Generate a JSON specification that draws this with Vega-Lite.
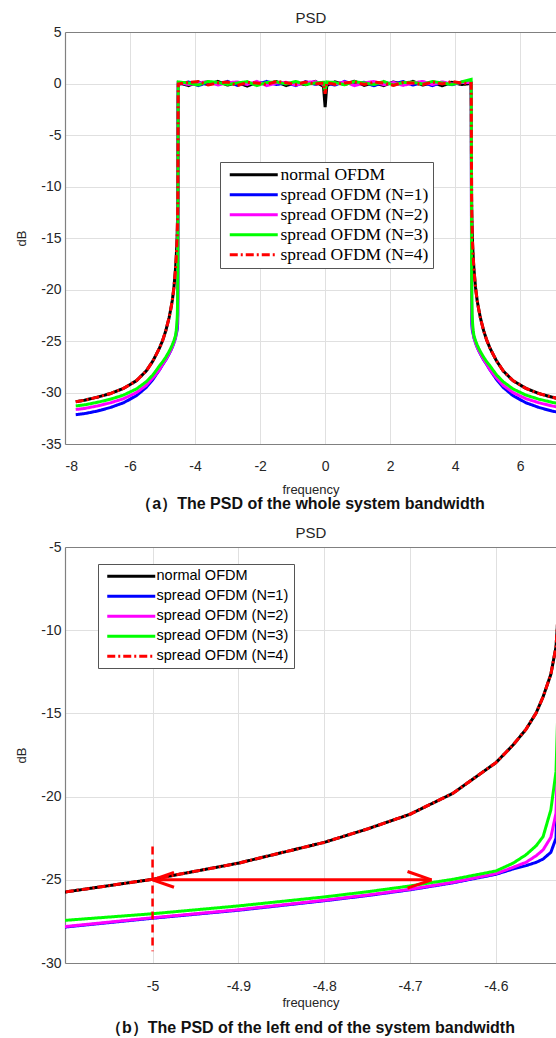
{
  "$schema": "https://vega.github.io/schema/vega-lite/v6.json",
  "background": "white",
  "padding": {"left": 15, "top": 10, "right": 0, "bottom": 0},
  "spacing": 13,
  "config": {
    "view": {"stroke": null},
    "axis": {
      "labelFont": "Liberation Sans", "titleFont": "Liberation Sans",
      "labelColor": "#262626", "titleColor": "#262626",
      "labelFontSize": 14, "titleFontSize": 13, "titleFontWeight": "normal",
      "gridColor": "#e0e0e0", "gridWidth": 1,
      "domainColor": "#808080", "domainWidth": 1.2,
      "ticks": false
    },
    "title": {"font": "Liberation Sans", "fontSize": 16, "fontWeight": "bold", "color": "#111111"}
  },
  "datasets": {
    "psd": [
      {"f": -7.67, "s0": -30.9, "s1": -32.15, "s2": -31.65, "s3": -31.3, "s4": -30.9},
      {"f": -7.4, "s0": -30.75, "s1": -32.05, "s2": -31.55, "s3": -31.2, "s4": -30.75},
      {"f": -7.0, "s0": -30.45, "s1": -31.8, "s2": -31.3, "s3": -30.95, "s4": -30.45},
      {"f": -6.6, "s0": -30.1, "s1": -31.45, "s2": -31.0, "s3": -30.65, "s4": -30.1},
      {"f": -6.2, "s0": -29.6, "s1": -31.0, "s2": -30.6, "s3": -30.25, "s4": -29.6},
      {"f": -5.8, "s0": -28.85, "s1": -30.3, "s2": -30.0, "s3": -29.65, "s4": -28.85},
      {"f": -5.5, "s0": -27.9, "s1": -29.5, "s2": -29.3, "s3": -28.95, "s4": -27.9},
      {"f": -5.3, "s0": -26.95, "s1": -28.75, "s2": -28.6, "s3": -28.3, "s4": -26.95},
      {"f": -5.2, "s0": -26.35, "s1": -28.28, "s2": -28.22, "s3": -27.88, "s4": -26.35},
      {"f": -5.1, "s0": -25.72, "s1": -27.83, "s2": -27.8, "s3": -27.43, "s4": -25.72},
      {"f": -5.0, "s0": -24.97, "s1": -27.31, "s2": -27.28, "s3": -27.04, "s4": -24.97},
      {"f": -4.9, "s0": -24.0, "s1": -26.83, "s2": -26.8, "s3": -26.57, "s4": -24.0},
      {"f": -4.8, "s0": -22.75, "s1": -26.26, "s2": -26.23, "s3": -26.03, "s4": -22.75},
      {"f": -4.75, "s0": -21.95, "s1": -25.95, "s2": -25.92, "s3": -25.72, "s4": -21.95},
      {"f": -4.7, "s0": -21.06, "s1": -25.6, "s2": -25.57, "s3": -25.37, "s4": -21.06},
      {"f": -4.65, "s0": -19.8, "s1": -25.18, "s2": -25.15, "s3": -24.97, "s4": -19.8},
      {"f": -4.6, "s0": -17.96, "s1": -24.67, "s2": -24.63, "s3": -24.47, "s4": -17.96},
      {"f": -4.58, "s0": -16.9, "s1": -24.35, "s2": -24.25, "s3": -24.0, "s4": -16.9},
      {"f": -4.565, "s0": -15.96, "s1": -24.15, "s2": -23.95, "s3": -23.5, "s4": -15.96},
      {"f": -4.553, "s0": -14.96, "s1": -23.95, "s2": -23.55, "s3": -22.95, "s4": -14.96},
      {"f": -4.545, "s0": -14.0, "s1": -23.75, "s2": -23.2, "s3": -22.4, "s4": -14.0},
      {"f": -4.536, "s0": -12.65, "s1": -23.35, "s2": -22.45, "s3": -20.8, "s4": -12.65},
      {"f": -4.53, "s0": -11.0, "s1": -22.5, "s2": -21.0, "s3": -18.5, "s4": -11.0},
      {"f": -4.525, "s0": -7.0, "s1": -14.0, "s2": -12.0, "s3": -10.0, "s4": -7.0},
      {"f": -4.52, "s0": -2.0, "s1": -1.5, "s2": -1.5, "s3": -1.5, "s4": -2.0},
      {"f": -4.515, "s0": 0.05, "s1": -0.1, "s2": 0.1, "s3": 0.15, "s4": -0.05},
      {"f": -4.2, "s0": -0.2, "s1": 0.15, "s2": -0.1, "s3": 0.05, "s4": 0.1},
      {"f": -3.9, "s0": 0.15, "s1": -0.2, "s2": 0.05, "s3": -0.15, "s4": 0.2},
      {"f": -3.6, "s0": -0.1, "s1": 0.1, "s2": 0.2, "s3": 0.2, "s4": -0.15},
      {"f": -3.3, "s0": 0.2, "s1": -0.05, "s2": -0.15, "s3": 0.1, "s4": 0.05},
      {"f": -3.0, "s0": -0.15, "s1": 0.2, "s2": 0.08, "s3": -0.1, "s4": 0.15},
      {"f": -2.7, "s0": 0.1, "s1": -0.18, "s2": 0.15, "s3": 0.05, "s4": -0.2},
      {"f": -2.4, "s0": -0.25, "s1": 0.08, "s2": -0.1, "s3": 0.18, "s4": 0.1},
      {"f": -2.1, "s0": 0.12, "s1": -0.12, "s2": 0.2, "s3": -0.2, "s4": 0.05},
      {"f": -1.8, "s0": -0.05, "s1": 0.2, "s2": -0.2, "s3": 0.1, "s4": -0.1},
      {"f": -1.5, "s0": 0.18, "s1": -0.1, "s2": 0.05, "s3": 0.15, "s4": 0.2},
      {"f": -1.2, "s0": -0.2, "s1": 0.05, "s2": 0.12, "s3": -0.05, "s4": 0.08},
      {"f": -0.9, "s0": 0.08, "s1": -0.2, "s2": -0.15, "s3": 0.2, "s4": -0.1},
      {"f": -0.6, "s0": -0.12, "s1": 0.18, "s2": 0.1, "s3": -0.1, "s4": 0.15},
      {"f": -0.3, "s0": 0.2, "s1": -0.08, "s2": 0.18, "s3": 0.05, "s4": -0.05},
      {"f": -0.05, "s0": -0.3, "s1": 0.1, "s2": -0.1, "s3": 0.12, "s4": 0.05},
      {"f": 0.0, "s0": -2.3, "s1": -0.4, "s2": -0.5, "s3": -0.7, "s4": -1.0},
      {"f": 0.05, "s0": -0.2, "s1": 0.05, "s2": 0.1, "s3": 0.15, "s4": 0.1},
      {"f": 0.3, "s0": 0.15, "s1": -0.15, "s2": -0.05, "s3": 0.1, "s4": -0.1},
      {"f": 0.6, "s0": -0.1, "s1": 0.2, "s2": 0.15, "s3": -0.12, "s4": 0.05},
      {"f": 0.9, "s0": 0.22, "s1": -0.1, "s2": -0.2, "s3": 0.18, "s4": 0.15},
      {"f": 1.2, "s0": -0.18, "s1": 0.12, "s2": 0.05, "s3": 0.05, "s4": -0.1},
      {"f": 1.5, "s0": 0.05, "s1": -0.22, "s2": 0.2, "s3": -0.1, "s4": 0.12},
      {"f": 1.8, "s0": -0.2, "s1": 0.1, "s2": -0.12, "s3": 0.2, "s4": 0.05},
      {"f": 2.1, "s0": 0.15, "s1": -0.05, "s2": 0.1, "s3": -0.15, "s4": -0.18},
      {"f": 2.4, "s0": -0.08, "s1": 0.18, "s2": -0.18, "s3": 0.1, "s4": 0.1},
      {"f": 2.7, "s0": 0.2, "s1": -0.15, "s2": 0.05, "s3": 0.12, "s4": 0.05},
      {"f": 3.0, "s0": -0.15, "s1": 0.08, "s2": 0.2, "s3": -0.05, "s4": -0.12},
      {"f": 3.3, "s0": 0.1, "s1": -0.2, "s2": -0.1, "s3": 0.2, "s4": 0.15},
      {"f": 3.6, "s0": -0.22, "s1": 0.1, "s2": 0.15, "s3": 0.05, "s4": -0.05},
      {"f": 3.9, "s0": 0.12, "s1": -0.12, "s2": -0.05, "s3": -0.1, "s4": 0.2},
      {"f": 4.2, "s0": -0.1, "s1": 0.15, "s2": 0.1, "s3": 0.15, "s4": 0.05},
      {"f": 4.49, "s0": 0.0, "s1": 0.05, "s2": 0.1, "s3": 0.4, "s4": 0.0},
      {"f": 4.495, "s0": -2.0, "s1": -1.5, "s2": -1.5, "s3": -1.5, "s4": -2.0},
      {"f": 4.5, "s0": -7.0, "s1": -14.0, "s2": -12.0, "s3": -10.0, "s4": -7.0},
      {"f": 4.505, "s0": -11.0, "s1": -22.5, "s2": -21.0, "s3": -18.5, "s4": -11.0},
      {"f": 4.511, "s0": -12.65, "s1": -23.35, "s2": -22.45, "s3": -20.8, "s4": -12.65},
      {"f": 4.52, "s0": -14.0, "s1": -23.75, "s2": -23.2, "s3": -22.4, "s4": -14.0},
      {"f": 4.528, "s0": -14.96, "s1": -23.95, "s2": -23.55, "s3": -22.95, "s4": -14.96},
      {"f": 4.54, "s0": -15.96, "s1": -24.15, "s2": -23.95, "s3": -23.5, "s4": -15.96},
      {"f": 4.555, "s0": -16.9, "s1": -24.35, "s2": -24.25, "s3": -24.0, "s4": -16.9},
      {"f": 4.575, "s0": -17.96, "s1": -24.67, "s2": -24.63, "s3": -24.47, "s4": -17.96},
      {"f": 4.625, "s0": -19.8, "s1": -25.18, "s2": -25.15, "s3": -24.97, "s4": -19.8},
      {"f": 4.675, "s0": -21.06, "s1": -25.6, "s2": -25.57, "s3": -25.37, "s4": -21.06},
      {"f": 4.725, "s0": -21.95, "s1": -25.95, "s2": -25.92, "s3": -25.72, "s4": -21.95},
      {"f": 4.775, "s0": -22.75, "s1": -26.26, "s2": -26.23, "s3": -26.03, "s4": -22.75},
      {"f": 4.875, "s0": -24.0, "s1": -26.83, "s2": -26.8, "s3": -26.57, "s4": -24.0},
      {"f": 4.975, "s0": -24.97, "s1": -27.31, "s2": -27.28, "s3": -27.04, "s4": -24.97},
      {"f": 5.075, "s0": -25.72, "s1": -27.83, "s2": -27.8, "s3": -27.43, "s4": -25.72},
      {"f": 5.175, "s0": -26.35, "s1": -28.28, "s2": -28.22, "s3": -27.88, "s4": -26.35},
      {"f": 5.275, "s0": -26.95, "s1": -28.75, "s2": -28.6, "s3": -28.3, "s4": -26.95},
      {"f": 5.475, "s0": -27.9, "s1": -29.5, "s2": -29.3, "s3": -28.95, "s4": -27.9},
      {"f": 5.775, "s0": -28.85, "s1": -30.3, "s2": -30.0, "s3": -29.65, "s4": -28.85},
      {"f": 6.175, "s0": -29.6, "s1": -31.0, "s2": -30.6, "s3": -30.25, "s4": -29.6},
      {"f": 6.575, "s0": -30.1, "s1": -31.45, "s2": -31.0, "s3": -30.65, "s4": -30.1},
      {"f": 6.975, "s0": -30.45, "s1": -31.8, "s2": -31.3, "s3": -30.95, "s4": -30.45},
      {"f": 7.375, "s0": -30.75, "s1": -32.05, "s2": -31.55, "s3": -31.2, "s4": -30.75},
      {"f": 7.645, "s0": -30.9, "s1": -32.15, "s2": -31.65, "s3": -31.3, "s4": -30.9}
    ],
    "arrow": [
      {"f": -5.0, "dB": -25.0, "f2": -4.675, "dB2": -25.0},
      {"f": -5.0, "dB": -25.0, "f2": -4.975, "dB2": -24.55},
      {"f": -5.0, "dB": -25.0, "f2": -4.975, "dB2": -25.45},
      {"f": -4.675, "dB": -25.0, "f2": -4.703, "dB2": -24.5},
      {"f": -4.675, "dB": -25.0, "f2": -4.703, "dB2": -25.5}
    ],
    "vline": [
      {"f": -5.0, "dB": -23.0, "dB2": -29.3}
    ]
  },
  "resolve": {
    "scale": {"color": "independent", "strokeDash": "independent"},
    "legend": {"color": "independent", "strokeDash": "independent"}
  },
  "vconcat": [
    {
      "width": 491,
      "height": 412,
      "title": {"text": "（a）The PSD of  the whole system bandwidth", "orient": "bottom", "offset": 0},
      "resolve": {"axis": {"x": "independent"}},
      "layer": [
        {
          "data": {"name": "psd"},
          "transform": [{"fold": ["s0", "s1", "s2", "s3", "s4"], "as": ["series", "dB"]}],
          "mark": {"type": "line", "strokeWidth": 3, "clip": true, "strokeCap": "butt"},
          "encoding": {
            "x": {"field": "f", "type": "quantitative",
              "scale": {"domain": [-8, 7.1], "nice": false, "zero": false},
              "axis": {"values": [-8, -6, -4, -2, 0, 2, 4, 6], "title": "frequency", "labelExpr": "'' + datum.value", "labelPadding": 15, "titlePadding": 10}},
            "y": {"field": "dB", "type": "quantitative",
              "scale": {"domain": [-35, 5], "nice": false, "zero": false},
              "axis": {"values": [5, 0, -5, -10, -15, -20, -25, -30, -35], "title": "dB", "labelExpr": "'' + datum.value", "labelPadding": 4, "titlePadding": 12}},
            "color": {"field": "series", "type": "nominal",
              "scale": {"domain": ["s0", "s1", "s2", "s3", "s4"], "range": ["#000000", "#0000ff", "#ff00ff", "#00ff00", "#ff0000"]},
              "legend": {"orient": "none", "legendX": 155, "legendY": 130, "title": null,
                "labelExpr": "datum.value == 's0' ? 'normal OFDM' : datum.value == 's1' ? 'spread OFDM (N=1)' : datum.value == 's2' ? 'spread OFDM (N=2)' : datum.value == 's3' ? 'spread OFDM (N=3)' : 'spread OFDM (N=4)'",
                "symbolType": "M -1 0 L 15 0", "symbolSize": 36, "symbolStrokeWidth": 3,
                "labelFont": "Liberation Serif", "labelFontSize": 17.5, "labelColor": "#000000", "labelOffset": 39,
                "padding": 4, "rowPadding": 1, "strokeColor": "#555555", "fillColor": "#ffffff"}},
            "strokeDash": {"field": "series", "type": "nominal",
              "scale": {"domain": ["s0", "s1", "s2", "s3", "s4"], "range": [[1, 0], [1, 0], [1, 0], [1, 0], [8, 3, 2, 3]]},
              "legend": {"orient": "none", "legendX": 155, "legendY": 130, "title": null,
                "labelExpr": "datum.value == 's0' ? 'normal OFDM' : datum.value == 's1' ? 'spread OFDM (N=1)' : datum.value == 's2' ? 'spread OFDM (N=2)' : datum.value == 's3' ? 'spread OFDM (N=3)' : 'spread OFDM (N=4)'",
                "symbolType": "M -1 0 L 15 0", "symbolSize": 36, "symbolStrokeWidth": 3,
                "labelFont": "Liberation Serif", "labelFontSize": 17.5, "labelColor": "#000000", "labelOffset": 39,
                "padding": 4, "rowPadding": 1, "strokeColor": "#555555", "fillColor": "#ffffff"}}
          }
        },
        {
          "data": {"values": [{"f": 0}]},
          "mark": {"type": "rule", "opacity": 0},
          "encoding": {
            "x": {"field": "f", "type": "quantitative",
              "scale": {"domain": [-8, 7.1], "nice": false, "zero": false},
              "axis": {"orient": "top", "labels": false, "grid": false, "title": "PSD", "titleFontSize": 15, "titlePadding": 7, "values": [-8, -6, -4, -2, 0, 2, 4, 6]}}
          }
        }
      ]
    },
    {
      "width": 491,
      "height": 416,
      "title": {"text": "（b）The PSD of  the left end of the system bandwidth", "orient": "bottom", "offset": 11},
      "resolve": {"axis": {"x": "independent"}},
      "layer": [
        {
          "data": {"name": "psd"},
          "transform": [{"fold": ["s0", "s1", "s2", "s3", "s4"], "as": ["series", "dB"]}],
          "mark": {"type": "line", "strokeWidth": 3, "clip": true, "strokeCap": "butt"},
          "encoding": {
            "x": {"field": "f", "type": "quantitative",
              "scale": {"domain": [-5.102, -4.53], "nice": false, "zero": false},
              "axis": {"values": [-5, -4.9, -4.8, -4.7, -4.6], "title": "frequency", "labelExpr": "'' + datum.value", "labelPadding": 16, "titlePadding": 3}},
            "y": {"field": "dB", "type": "quantitative",
              "scale": {"domain": [-30, -5], "nice": false, "zero": false},
              "axis": {"values": [-5, -10, -15, -20, -25, -30], "title": "dB", "labelExpr": "'' + datum.value", "labelPadding": 4, "titlePadding": 12}},
            "color": {"field": "series", "type": "nominal",
              "scale": {"domain": ["s0", "s1", "s2", "s3", "s4"], "range": ["#000000", "#0000ff", "#ff00ff", "#00ff00", "#ff0000"]},
              "legend": {"orient": "none", "legendX": 33, "legendY": 17, "title": null,
                "labelExpr": "datum.value == 's0' ? 'normal OFDM' : datum.value == 's1' ? 'spread OFDM (N=1)' : datum.value == 's2' ? 'spread OFDM (N=2)' : datum.value == 's3' ? 'spread OFDM (N=3)' : 'spread OFDM (N=4)'",
                "symbolType": "M -1 0 L 15 0", "symbolSize": 36, "symbolStrokeWidth": 3,
                "labelFont": "Liberation Sans", "labelFontSize": 14.5, "labelColor": "#000000", "labelOffset": 39,
                "padding": 5, "rowPadding": 5, "strokeColor": "#555555", "fillColor": "#ffffff"}},
            "strokeDash": {"field": "series", "type": "nominal",
              "scale": {"domain": ["s0", "s1", "s2", "s3", "s4"], "range": [[1, 0], [1, 0], [1, 0], [1, 0], [8, 3, 2, 3]]},
              "legend": {"orient": "none", "legendX": 33, "legendY": 17, "title": null,
                "labelExpr": "datum.value == 's0' ? 'normal OFDM' : datum.value == 's1' ? 'spread OFDM (N=1)' : datum.value == 's2' ? 'spread OFDM (N=2)' : datum.value == 's3' ? 'spread OFDM (N=3)' : 'spread OFDM (N=4)'",
                "symbolType": "M -1 0 L 15 0", "symbolSize": 36, "symbolStrokeWidth": 3,
                "labelFont": "Liberation Sans", "labelFontSize": 14.5, "labelColor": "#000000", "labelOffset": 39,
                "padding": 5, "rowPadding": 5, "strokeColor": "#555555", "fillColor": "#ffffff"}}
          }
        },
        {
          "data": {"name": "arrow"},
          "mark": {"type": "rule", "color": "#ff0000", "strokeWidth": 3, "clip": true},
          "encoding": {
            "x": {"field": "f", "type": "quantitative", "scale": {"domain": [-5.102, -4.53], "nice": false, "zero": false}, "axis": null},
            "y": {"field": "dB", "type": "quantitative", "scale": {"domain": [-30, -5], "nice": false, "zero": false},
              "axis": {"values": [-5, -10, -15, -20, -25, -30], "title": "dB", "labelExpr": "'' + datum.value", "labelPadding": 4, "titlePadding": 12}},
            "x2": {"field": "f2"},
            "y2": {"field": "dB2"}
          }
        },
        {
          "data": {"name": "vline"},
          "mark": {"type": "rule", "color": "#ff0000", "strokeWidth": 2.5, "strokeDash": [8, 5], "clip": true},
          "encoding": {
            "x": {"field": "f", "type": "quantitative", "scale": {"domain": [-5.102, -4.53], "nice": false, "zero": false}, "axis": null},
            "y": {"field": "dB", "type": "quantitative", "scale": {"domain": [-30, -5], "nice": false, "zero": false},
              "axis": {"values": [-5, -10, -15, -20, -25, -30], "title": "dB", "labelExpr": "'' + datum.value", "labelPadding": 4, "titlePadding": 12}},
            "y2": {"field": "dB2"}
          }
        },
        {
          "data": {"values": [{"f": -4.8}]},
          "mark": {"type": "rule", "opacity": 0},
          "encoding": {
            "x": {"field": "f", "type": "quantitative",
              "scale": {"domain": [-5.102, -4.53], "nice": false, "zero": false},
              "axis": {"orient": "top", "labels": false, "grid": false, "title": "PSD", "titleFontSize": 15, "titlePadding": 7, "values": [-5, -4.9, -4.8, -4.7, -4.6]}}
          }
        }
      ]
    }
  ]
}
